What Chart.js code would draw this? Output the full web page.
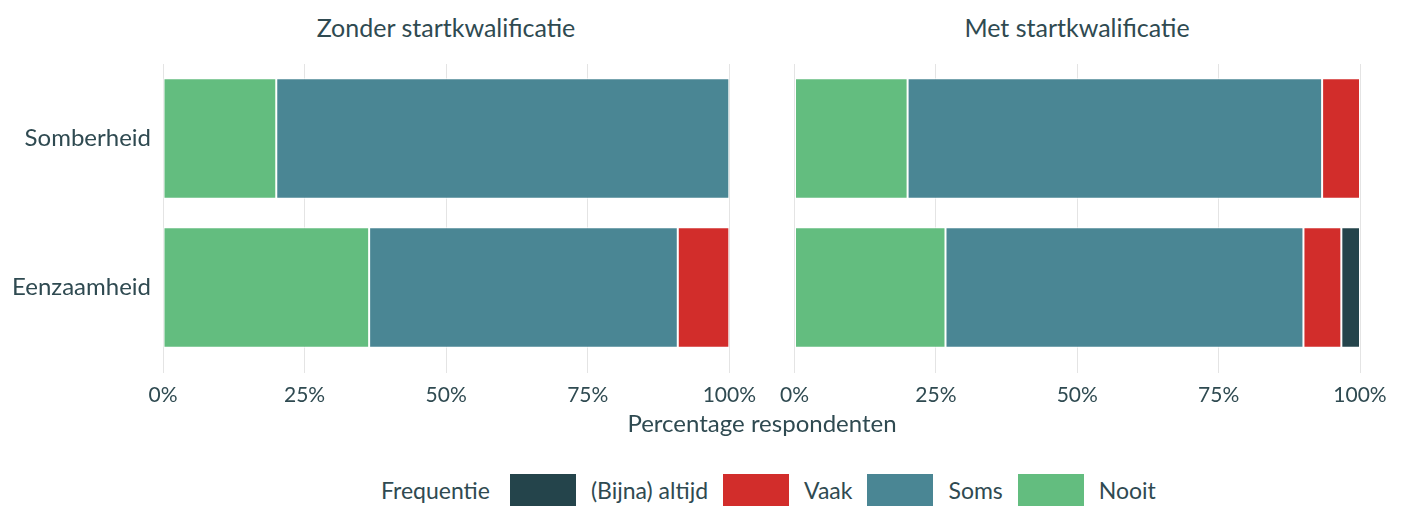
<!DOCTYPE html>
<html>
<head>
<meta charset="utf-8">
<script src="https://cdn.jsdelivr.net/npm/chart.js@4/dist/chart.umd.min.js"></script>
<style>
  body { margin: 0; background: #fff; font-family: Lato, sans-serif; color: #2f4a51; }
  #wrap { position: relative; width: 1407px; height: 506px; overflow: hidden; }
  .panel { position: absolute; top: 0; height: 410px; }
  .ptitle { position: absolute; top: 12px; font-size: 25px; line-height: 30px; text-align: center; }
  #xtitle { position: absolute; top: 408px; left: 462px; width: 600px; text-align: center; font-size: 24px; line-height: 30px; }
  #legend { position: absolute; top: 474px; left: 381px; display: flex; align-items: center; font-size: 23px; line-height: 33px; }
  #legend .box { width: 66px; height: 33px; margin: 0 15px; }
  #legend .first { margin-left: 20px; }
</style>
</head>
<body>
<div id="wrap">
  <div class="ptitle" style="left:163px;width:566px;">Zonder startkwalificatie</div>
  <div class="ptitle" style="left:794px;width:566px;">Met startkwalificatie</div>
  <div class="panel" style="left:0;width:766px;"><canvas id="left"></canvas></div>
  <div class="panel" style="left:770px;width:637px;"><canvas id="right"></canvas></div>
  <div id="xtitle">Percentage respondenten</div>
  <div id="legend"></div>
</div>
<script>
var categories = ["Somberheid", "Eenzaamheid"];
var seriesNames = ["Nooit", "Soms", "Vaak", "(Bijna) altijd"];
var seriesColors = ["#63bd7f", "#4a8694", "#d22d2b", "#24444b"];

// percentages per category, left panel: zonder startkwalificatie
var zonderNooit = [20.0, 36.4];
var zonderSoms = [80.0, 54.5];
var zonderVaak = [0, 9.1];
var zonderAltijd = [0, 0];

// right panel: met startkwalificatie
var metNooit = [20.0, 26.7];
var metSoms = [73.3, 63.3];
var metVaak = [6.7, 6.7];
var metAltijd = [0, 3.3];

var xTicks = [0, 25, 50, 75, 100];
var textColor = "#2f4a51";
var gridColor = "#e4e4e4";

function buildDatasets(values) {
  return values.map(function (arr, i) {
    return {
      label: seriesNames[i],
      data: arr,
      backgroundColor: seriesColors[i],
      borderColor: "#ffffff",
      borderWidth: 1,
      borderSkipped: false,
      categoryPercentage: 1,
      barPercentage: 0.81,
    };
  });
}

function makePanel(id, values, yWidth, padding) {
  new Chart(document.getElementById(id), {
    type: "bar",
    data: { labels: categories, datasets: buildDatasets(values) },
    options: {
      indexAxis: "y",
      responsive: true,
      maintainAspectRatio: false,
      animation: false,
      layout: { padding: padding },
      plugins: { legend: { display: false }, tooltip: { enabled: false } },
      scales: {
        x: {
          stacked: true,
          min: 0,
          max: 100,
          afterBuildTicks: function (scale) {
            scale.ticks = xTicks.map(function (v) { return { value: v }; });
          },
          afterFit: function (scale) { scale.height = 48; },
          ticks: {
            color: textColor,
            font: { family: "Lato", size: 21 },
            padding: 10,
            maxRotation: 0,
            callback: function (v) { return v + "%"; },
          },
          grid: { color: gridColor, lineWidth: 1, tickLength: 11, drawTicks: true },
          border: { display: false },
        },
        y: {
          stacked: true,
          display: yWidth > 0,
          afterFit: function (scale) { scale.width = yWidth; },
          ticks: { color: textColor, font: { family: "Lato", size: 24 }, padding: 12 },
          grid: { display: false, drawTicks: false },
          border: { display: false },
        },
      },
    },
  });
}

makePanel("left", [zonderNooit, zonderSoms, zonderVaak, zonderAltijd], 163,
  { top: 64, right: 0, bottom: 0, left: 0 });
makePanel("right", [metNooit, metSoms, metVaak, metAltijd], 0,
  { top: 64, right: 47, bottom: 0, left: 24 });

// legend, reversed order like the reference
var legend = document.getElementById("legend");
var html = '<span>Frequentie</span>';
for (var i = seriesNames.length - 1; i >= 0; i--) {
  html += '<span class="box' + (i === seriesNames.length - 1 ? ' first' : '') +
          '" style="background:' + seriesColors[i] + '"></span>' +
          '<span>' + seriesNames[i] + '</span>';
}
legend.innerHTML = html;
</script>
</body>
</html>
